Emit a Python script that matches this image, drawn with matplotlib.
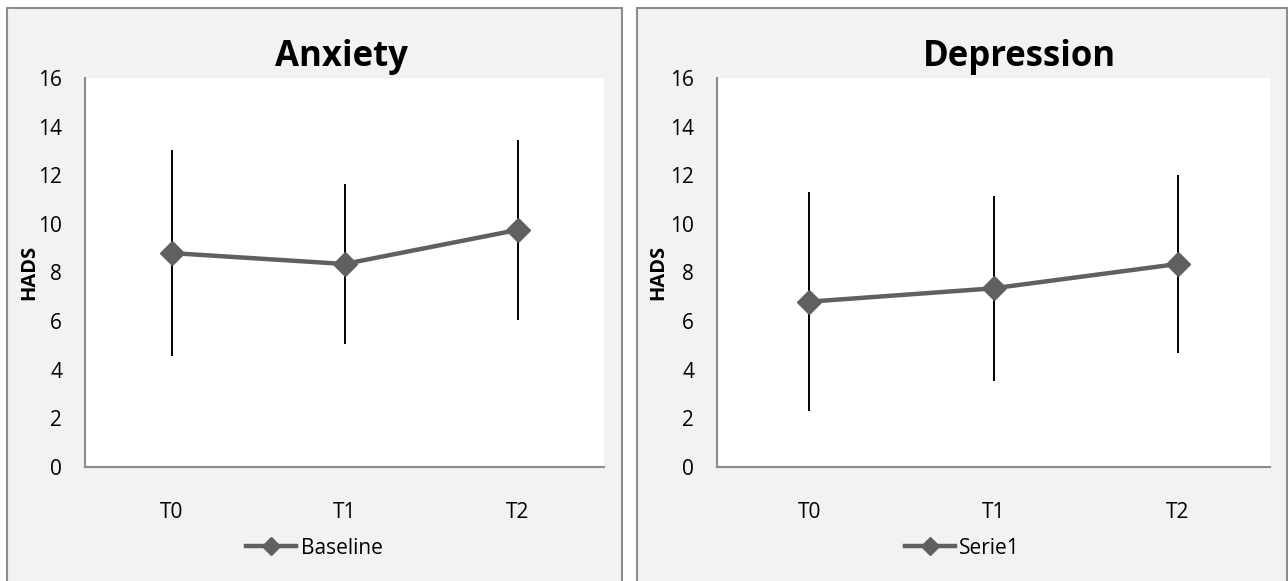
import matplotlib
matplotlib.use("Agg")
import matplotlib.pyplot as plt
from matplotlib.patches import Rectangle

plt.rcParams['font.family'] = ['Open Sans', 'DejaVu Sans']

time_points = ['T0', 'T1', 'T2']

anxiety_mean = [8.8, 8.35, 9.75]
anxiety_err = [4.25, 3.3, 3.7]

depression_mean = [6.8, 7.35, 8.35]
depression_err = [4.5, 3.8, 3.65]

W, H = 1288, 581


def px_box(x0, y0, x1, y1):
    # pixel box (top-left origin) -> figure fraction [l, b, w, h]
    return [x0 / W, 1 - y1 / H, (x1 - x0) / W, (y1 - y0) / H]


def draw_panel(fig, panel, plot_area, title, title_x, ylabel_x, means, errs, label):
    # chart area background and border, kept under the axes
    l, b, w, h = px_box(*panel)
    fig.patches.append(Rectangle((l, b), w, h, transform=fig.transFigure,
                                 facecolor='#f2f2f2', edgecolor='#8c8c8c',
                                 linewidth=1.5, zorder=-5))

    ax = fig.add_axes(px_box(*plot_area))
    ax.set_facecolor('white')
    x = list(range(len(time_points)))
    ax.errorbar(x, means, yerr=errs, fmt='none', ecolor='black',
                elinewidth=1.4, capsize=0, zorder=2)
    ax.plot(x, means, color='#606060', linewidth=3.2, marker='D',
            markersize=12.5, label=label, zorder=3)

    ax.set_xlim(-0.5, 2.5)
    ax.set_ylim(0, 16)
    ax.set_yticks(range(0, 17, 2))
    ax.set_xticks(x)
    ax.set_xticklabels(time_points)
    ax.tick_params(axis='both', length=0, labelsize=15, colors='black')
    ax.tick_params(axis='x', pad=25)
    ax.tick_params(axis='y', pad=16.5)
    for side in ['top', 'right']:
        ax.spines[side].set_visible(False)
    for side in ['left', 'bottom']:
        ax.spines[side].set_color('#8c8c8c')
        ax.spines[side].set_linewidth(1.5)
    ax.set_ylabel('HADS', fontsize=14.5, fontweight='bold')
    axw = plot_area[2] - plot_area[0]
    ax.yaxis.set_label_coords((ylabel_x - plot_area[0]) / axw, 0.5)
    ax.yaxis.label.set_va('center')

    fig.text(title_x / W, 1 - 66 / H, title, fontsize=25, fontweight='bold',
             ha='center', va='baseline')

    cx = (panel[0] + panel[2]) / 2
    fig.legend(handles=ax.get_lines(), loc='center',
               bbox_to_anchor=(cx / W, 1 - 548 / H), frameon=False,
               fontsize=15, handlelength=2.4, handletextpad=0.2,
               markerscale=0.75, borderaxespad=0)
    return ax


fig = plt.figure(figsize=(W / 100, H / 100), dpi=100)
fig.patch.set_facecolor('white')

draw_panel(fig, (7, 8, 622, 600), (85, 78, 604, 467), 'Anxiety', 341, 29,
           anxiety_mean, anxiety_err, 'Baseline')
draw_panel(fig, (637, 8, 1287, 600), (717, 78, 1270, 467), 'Depression', 1019, 658,
           depression_mean, depression_err, 'Serie1')

fig.savefig('out.png', dpi=100)
